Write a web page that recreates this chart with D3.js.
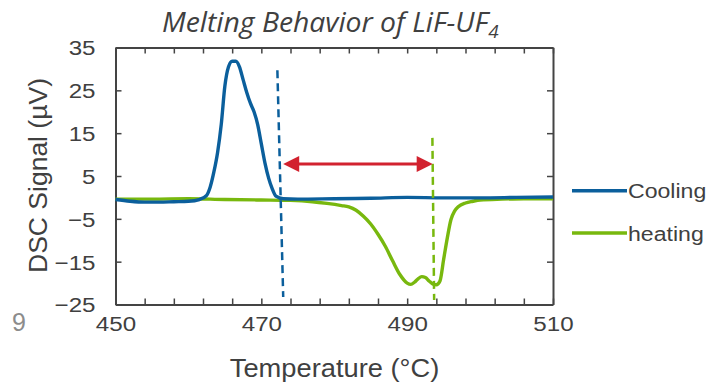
<!DOCTYPE html>
<html><head><meta charset="utf-8">
<script src="https://cdn.jsdelivr.net/npm/d3@7/dist/d3.min.js"></script>
<style>body{margin:0;background:#fff;} svg{display:block;}</style>
</head><body>
<svg id="c" width="714" height="383"></svg>
<script>
// ---- data ----
const coolingT = [450,452,454,456,458,460,461.5,462.5,463,463.5,464,464.5,465,465.5,466,466.5,467,467.5,468,468.5,469,469.5,470,470.5,471,471.5,472,473,475,480,485,490,495,500,505,510];
const coolingV = [-0.5,-0.9,-1.1,-1.1,-1.0,-0.9,-0.5,0.5,2.5,6,10.5,17,26,30.5,31.8,31.8,30.5,27.5,24.5,22,20,17,12.5,8,4.5,2,0.3,-0.3,-0.4,-0.3,-0.2,0,-0.1,-0.1,0,0.1];
const heatingT = [450,455,460,465,470,474,477,479,481,482,483,484,485,486,487,488,489,490,490.5,491,491.5,492,492.5,493,493.5,494,494.5,495,495.5,496,496.5,497,498,499,500,503,506,510];
const heatingV = [-0.4,-0.4,-0.3,-0.5,-0.6,-0.7,-1.0,-1.4,-1.9,-2.2,-3.0,-4.4,-6.2,-8.6,-11.4,-14.8,-18.0,-20.0,-20.3,-19.8,-19.0,-18.5,-18.7,-19.5,-20.2,-20.4,-19.5,-14.5,-9.5,-5.2,-3.2,-2.2,-1.3,-0.9,-0.6,-0.4,-0.3,-0.3];
const seriesNames = ["Cooling","heating"];
const xTickValues = [450,454,458,462,466,470,474,478,482,486,490,494,498,502,506,510];
const xTickLabels = [450,470,490,510];
const yTickValues = [-25,-15,-5,5,15,25,35];
const coolingDashT = [472.2, 473.0];
const coolingDashV = [29.7, -23.25];
const heatingDashT = [493.46, 493.7];
const heatingDashV = [13.9, -23.95];
const arrowT = [473.0, 493.5];
const arrowV = [7.8, 7.8];

// ---- drawing ----
const svg = d3.select("#c");
const x = d3.scaleLinear().domain([450,510]).range([115.5,553]);
const y = d3.scaleLinear().domain([-25,35]).range([304.5,47.5]);
const axisCol = "#444";
const textCol = "#404040";
const blue = "#0b5f9c", green = "#78b80e", red = "#d2222f";
const SX = 1.15;
const sans = "'Liberation Sans',Arial,sans-serif";

// axes / frame
const gB = svg.append("g").attr("transform",`translate(0,${y(-25)})`)
  .call(d3.axisBottom(x).tickValues(xTickValues).tickSizeInner(-6).tickSizeOuter(0)
    .tickFormat(d => xTickLabels.includes(d) ? d : ""));
const gT = svg.append("g").attr("transform",`translate(0,${y(35)})`)
  .call(d3.axisTop(x).tickValues(xTickValues).tickSizeInner(-6).tickSizeOuter(0).tickFormat(""));
const gL = svg.append("g").attr("transform",`translate(${x(450)},0)`)
  .call(d3.axisLeft(y).tickValues(yTickValues).tickSizeInner(-6).tickSizeOuter(0));
const gR = svg.append("g").attr("transform",`translate(${x(510)},0)`)
  .call(d3.axisRight(y).tickValues(yTickValues).tickSizeInner(-6).tickSizeOuter(0).tickFormat(""));
[gB,gT,gL,gR].forEach(g => {
  g.select(".domain").attr("stroke",axisCol).attr("stroke-width",2);
  g.selectAll(".tick line").attr("stroke",axisCol).attr("stroke-width",1.5);
  g.selectAll("text").attr("fill",textCol).style("font-family",sans).style("font-size","21px");
});
gB.selectAll(".tick text").attr("y",12).attr("dy","0.71em")
  .attr("transform",`scale(${SX},1)`);
gL.selectAll(".tick text").attr("x",-20/SX).attr("dy","0.35em")
  .attr("transform",`scale(${SX},1)`);

// curves
const line = d3.line().x(d=>x(d[0])).y(d=>y(d[1])).curve(d3.curveMonotoneX);
const cooling = coolingT.map((t,i)=>[t,coolingV[i]]);
const heating = heatingT.map((t,i)=>[t,heatingV[i]]);
svg.append("path").datum(heating).attr("d",line).attr("fill","none")
  .attr("stroke",green).attr("stroke-width",3.4).attr("stroke-linejoin","round");
svg.append("path").datum(cooling).attr("d",line).attr("fill","none")
  .attr("stroke",blue).attr("stroke-width",3.4).attr("stroke-linejoin","round");

// dashed markers
const straight = d3.line().x(d=>x(d[0])).y(d=>y(d[1]));
svg.append("path").datum(coolingDashT.map((t,i)=>[t,coolingDashV[i]])).attr("d",straight)
  .attr("stroke",blue).attr("stroke-width",2.5).attr("stroke-dasharray","8,5").attr("fill","none");
svg.append("path").datum(heatingDashT.map((t,i)=>[t,heatingDashV[i]])).attr("d",straight)
  .attr("stroke",green).attr("stroke-width",2.5).attr("stroke-dasharray","8,5").attr("fill","none");

// red double arrow
const ax1 = x(arrowT[0]), ax2 = x(arrowT[1]), ay = y(arrowV[0]);
const hl = 16, hw = 8;
svg.append("line").attr("x1",ax1+hl-2).attr("x2",ax2-hl+2).attr("y1",ay).attr("y2",ay)
  .attr("stroke",red).attr("stroke-width",3);
svg.append("path").attr("d",`M${ax1},${ay}L${ax1+hl},${ay-hw}L${ax1+hl},${ay+hw}Z`).attr("fill",red);
svg.append("path").attr("d",`M${ax2},${ay}L${ax2-hl},${ay-hw}L${ax2-hl},${ay+hw}Z`).attr("fill",red);

// legend
const lg = svg.append("g");
[[blue,190.7],[green,233]].forEach(([c,ly],i) => {
  lg.append("line").attr("x1",572).attr("x2",627).attr("y1",ly).attr("y2",ly)
    .attr("stroke",c).attr("stroke-width",3.5);
  lg.append("text").attr("transform",`translate(628,${ly+7.5}) scale(1.1,1)`)
    .text(seriesNames[i]).attr("fill",textCol)
    .style("font-family",sans).style("font-size","21px");
});

// axis titles
svg.append("text").attr("transform",`translate(334.5,377) scale(1.05,1)`).attr("text-anchor","middle")
  .text("Temperature (°C)").attr("fill",textCol)
  .style("font-family",sans).style("font-size","26px");
svg.append("text").attr("transform",`translate(47,175.5) rotate(-90)`).attr("text-anchor","middle")
  .text("DSC Signal (µV)").attr("fill",textCol)
  .style("font-family",sans).style("font-size","26.5px");

// title
const tt = svg.append("text").attr("transform","translate(162,32) scale(1.05,1)")
  .attr("fill",textCol).style("font-family","'Open Sans',sans-serif").style("font-style","italic").style("font-size","27px");
tt.append("tspan").text("Melting Behavior of LiF-UF");
tt.append("tspan").text("4").attr("dy",6).style("font-size","18px");

// page number
svg.append("text").attr("x",12).attr("y",331).text("9").attr("fill","#8c8c8c")
  .style("font-family",sans).style("font-size","25px");
</script>
</body></html>
